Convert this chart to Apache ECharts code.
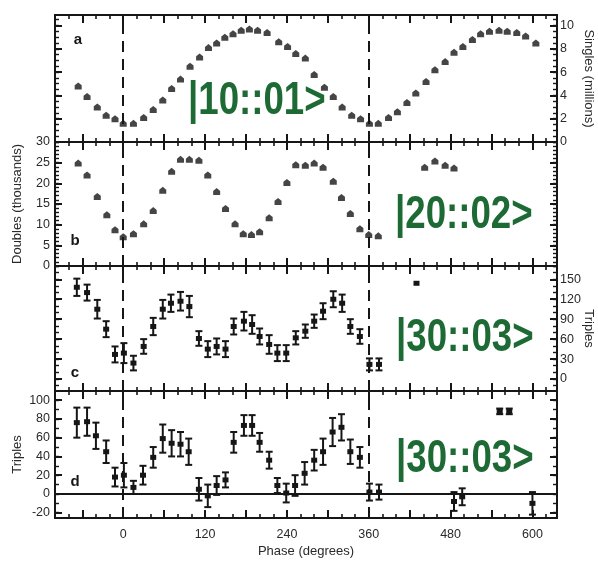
<!DOCTYPE html>
<html><head><meta charset="utf-8">
<script src="https://cdn.jsdelivr.net/npm/echarts@6/dist/echarts.min.js"></script>
<style>html,body{margin:0;padding:0;background:#fff}#c{width:598px;height:563px}</style>
</head><body><div id="c"></div>
<script>
// ---- data ----
const singlesPhase = [-66,-53,-38,-25,-12,0,15,30,44,58,71,84,98,112,125,137,149,161,173,185,197,211,228,241,253,267,280,295,308,321,335,348,361,374,389,402,416,429,444,457,472,485,498,512,524,537,551,563,577,590,605];
const singlesMillions = [4.8,3.9,3.0,2.3,2.0,1.6,1.6,2.1,2.8,3.6,4.6,5.4,6.5,7.3,8.1,8.5,9.0,9.3,9.6,9.7,9.6,9.4,8.6,8.2,7.6,7.2,5.8,4.7,3.9,3.0,2.3,2.0,1.6,1.6,2.1,2.6,3.4,4.2,5.2,6.2,6.9,7.7,8.2,8.8,9.3,9.5,9.6,9.5,9.4,9.1,8.5];

const doublesPhase = [-66,-53,-38,-24,-12,0,15,30,44,58,71,84,97,111,124,137,150,164,176,188,200,214,227,240,253,267,280,293,308,320,333,347,360,374,442,457,472,485];
const doublesThousands = [24.9,22.0,16.8,12.4,8.8,7.1,7.8,10.2,13.4,18.3,22.9,25.8,25.8,25.6,22.0,18.0,13.9,10.2,7.8,7.6,8.3,11.7,15.6,20.2,24.5,24.4,24.9,23.9,20.5,16.6,12.7,9.0,7.6,7.3,23.9,25.4,24.4,23.7];

const triplesCPhase = [-68,-53,-38,-25,-12,1,15,30,44,58,70,84,97,111,124,137,150,162,177,189,200,214,226,239,253,267,280,293,308,321,333,347,361,375,430];
const triplesCValue = [138,130,105,75,37,39,24,49,79,105,114,117,109,61,45,49,45,79,87,82,64,52,39,39,62,72,87,102,120,114,79,64,22,22,144];
const triplesCError = [13,12,14,12,12,15,11,11,13,14,13,14,16,11,12,12,12,12,14,14,12,14,12,12,10,10,10,12,12,13,11,11,9,9,0];

const triplesDPhase = [-68,-53,-40,-25,-12,1,15,29,44,58,71,84,96,111,124,137,150,162,177,189,200,214,226,239,252,266,280,293,307,320,333,347,361,375,485,497,552,566,600];
const triplesDValue = [76,77,62,45,18,20,7,20,39,59,54,53,45,5,-2,9,15,55,73,73,55,36,9,1,9,22,36,45,66,71,45,39,2,2,-8,-3,88,88,-10];
const triplesDError = [16,15,14,12,10,13,7,10,11,15,14,13,14,12,12,10,8,11,11,11,10,9,8,10,11,12,11,14,15,14,13,11,9,8,10,9,3,3,12];

const phaseTickLabels = [0,120,240,360,480,600];
const phaseMajorTicks = [-60,0,60,120,180,240,300,360,420,480,540,600];
const singlesTicks = [0,2,4,6,8,10];
const doublesTicks = [0,5,10,15,20,25,30];
const triplesCTicks = [0,30,60,90,120,150];
const triplesDTicks = [-20,0,20,40,60,80,100];
const markerPhases = [0,360];

// ---- layout / styles ----
const X_MIN = -100, X_MAX = 636;
const INK = '#161616';
const FONT = '"Liberation Sans", Arial, sans-serif';
function steps(a, b, s){ const r=[]; for(let v=Math.ceil(a/s)*s; v<=b+1e-9; v+=s) r.push(+v.toFixed(6)); return r; }

const panels = [
  {top:15,  height:127, min:0,     max:10.9,  major:singlesTicks,  minor:0.5, labelSide:'right', name:'Singles (millions)', nameGap:25, letter:'a', lx:78, ly:40},
  {top:142, height:124, min:0,     max:30,    major:doublesTicks,  minor:1,   labelSide:'left',  name:'Doubles (thousands)', nameGap:31, letter:'b', lx:75, ly:241},
  {top:266, height:125, min:-18,   max:170,   major:triplesCTicks, minor:10,  labelSide:'right', name:'Triples', nameGap:25, letter:'c', lx:75, ly:373},
  {top:391, height:127, min:-25.6, max:109.7, major:triplesDTicks, minor:10,  labelSide:'left',  name:'Triples', nameGap:31, letter:'d', lx:75, ly:482}
];

const grid = [], xAxis = [], yAxis = [], series = [];
const tickStyle = w => ({color: INK, width: w});
const labelStyle = {color:'#2a2a2a', fontSize:12.5, fontFamily: FONT};
const noLine = {show:false, onZero:false};

panels.forEach((p, g) => {
  grid.push({left:55, right:41, top:p.top, height:p.height, show:true, borderColor:INK, borderWidth:2,
    backgroundColor:'transparent', outerBoundsMode:'none', containLabel:false});
  ['bottom','top'].forEach(pos => {
    const isLabelled = (g === 3 && pos === 'bottom');
    xAxis.push({type:'value', gridIndex:g, position:pos, min:X_MIN, max:X_MAX,
      axisLine:noLine, splitLine:{show:false},
      axisTick:{show:true, inside:true, length:8, customValues:phaseMajorTicks, lineStyle:tickStyle(2)},
      axisLabel:{show:isLabelled, customValues:phaseTickLabels, margin:10, ...labelStyle},
      name: isLabelled ? 'Phase (degrees)' : '', nameLocation:'middle', nameGap:27, nameMoveOverlap:false,
      nameTextStyle:{color:'#2a2a2a', fontSize:13, fontFamily:FONT}
    });
    xAxis.push({type:'value', gridIndex:g, position:pos, min:X_MIN, max:X_MAX,
      axisLine:noLine, splitLine:{show:false},
      axisTick:{show:true, inside:true, length:4, customValues:steps(X_MIN, X_MAX, 20), lineStyle:tickStyle(1.6)},
      axisLabel:{show:false}
    });
  });
  ['left','right'].forEach(pos => {
    const lab = p.labelSide === pos;
    yAxis.push({type:'value', gridIndex:g, position:pos, min:p.min, max:p.max,
      axisLine:noLine, splitLine:{show:false},
      axisTick:{show:true, inside:true, length:7, customValues:p.major, lineStyle:tickStyle(2)},
      axisLabel:{show:lab, customValues:p.major, margin: pos === 'right' ? 3 : 5, ...labelStyle},
      name: lab ? p.name : '', nameLocation:'middle', nameGap:p.nameGap, nameMoveOverlap:false,
      nameRotate: pos === 'left' ? 90 : -90,
      nameTextStyle:{color:'#2a2a2a', fontSize:13, fontFamily:FONT}
    });
    yAxis.push({type:'value', gridIndex:g, position:pos, min:p.min, max:p.max,
      axisLine:noLine, splitLine:{show:false},
      axisTick:{show:true, inside:true, length:4, customValues:steps(p.min, p.max, p.minor), lineStyle:tickStyle(1.4)},
      axisLabel:{show:false}
    });
  });
});

const zip = (a, b, c) => a.map((v, i) => c ? [v, b[i], c[i]] : [v, b[i]]);
const house = 'path://M5,0 L10,4 L10,10 L0,10 L0,4 Z';

function errRender(params, api){
  const x = api.value(0), y = api.value(1), e = api.value(2);
  const c = api.coord([x, y]), t = api.coord([x, y + e]), b = api.coord([x, y - e]);
  const w = 3.5, st = {stroke: INK, lineWidth: 2};
  const kids = [
    {type:'line', shape:{x1:c[0], y1:t[1], x2:c[0], y2:b[1]}, style:st},
    {type:'rect', shape:{x:c[0]-3, y:c[1]-2.5, width:6, height:5}, style:{fill:INK}}
  ];
  if (e > 0) {
    kids.push({type:'line', shape:{x1:c[0]-w, y1:t[1], x2:c[0]+w, y2:t[1]}, style:st});
    kids.push({type:'line', shape:{x1:c[0]-w, y1:b[1], x2:c[0]+w, y2:b[1]}, style:st});
  }
  return {type:'group', children:kids};
}

const panelData = [
  zip(singlesPhase, singlesMillions),
  zip(doublesPhase, doublesThousands),
  zip(triplesCPhase, triplesCValue, triplesCError),
  zip(triplesDPhase, triplesDValue, triplesDError)
];

panelData.forEach((data, g) => {
  const mlData = markerPhases.map(v => ({xAxis: v}));
  if (g === 3) mlData.push({yAxis: 0, lineStyle:{type:'solid', width:2, color:INK}});
  series.push({type:'scatter', xAxisIndex:4*g, yAxisIndex:4*g, data: data.map(d => [d[0], d[1]]),
    symbolSize:0, silent:true, z:1,
    markLine:{silent:true, symbol:['none','none'], label:{show:false},
      lineStyle:{type:[11,7], width:2, color:INK}, data: mlData}
  });
  if (g < 2) {
    series.push({type:'scatter', xAxisIndex:4*g, yAxisIndex:4*g, data, symbol:house, symbolSize:7,
      itemStyle:{color:INK}, z:3});
  } else {
    series.push({type:'custom', xAxisIndex:4*g, yAxisIndex:4*g, data, renderItem:errRender,
      encode:{x:0, y:1}, clip:true, z:3});
  }
});

const GREEN = '#1d6a35';
const bigFont = 'bold 47px "Liberation Sans", Arial, sans-serif';
const graphic = [
  {type:'text', x:188, y:101, scaleX:0.78, style:{text:'|10::01>', font:bigFont, fill:GREEN, textVerticalAlign:'middle'}},
  {type:'text', x:395, y:215, scaleX:0.78, style:{text:'|20::02>', font:bigFont, fill:GREEN, textVerticalAlign:'middle'}},
  {type:'text', x:396, y:338, scaleX:0.78, style:{text:'|30::03>', font:bigFont, fill:GREEN, textVerticalAlign:'middle'}},
  {type:'text', x:396, y:459, scaleX:0.78, style:{text:'|30::03>', font:bigFont, fill:GREEN, textVerticalAlign:'middle'}}
];
panels.forEach(p => graphic.push({type:'text', x:p.lx, y:p.ly,
  style:{text:p.letter, font:'bold 15px "Liberation Sans", Arial, sans-serif', fill:INK, textAlign:'center', textVerticalAlign:'middle'}}));

const chart = echarts.init(document.getElementById('c'), null, {renderer:'canvas'});
chart.setOption({animation:false, backgroundColor:'#fff', grid, xAxis, yAxis, series, graphic});
</script></body></html>
